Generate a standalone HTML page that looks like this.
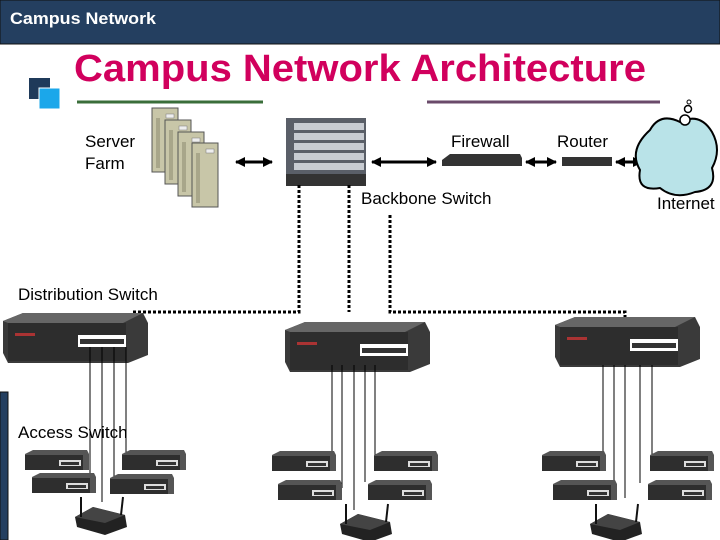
<html><head><style>body{margin:0;width:720px;height:540px;overflow:hidden;background:#fff;font-family:"Liberation Sans",sans-serif}</style></head><body>
<svg width="720" height="540" xmlns="http://www.w3.org/2000/svg" font-family="Liberation Sans, sans-serif">
<defs>
<marker id="a" markerUnits="userSpaceOnUse" markerWidth="10" markerHeight="10" refX="9" refY="5" orient="auto-start-reverse"><path d="M0,0L10,5L0,10z" fill="#000"/></marker>
<g id="ds"><path d="M0,8L20,0H140L145,10V42L125,50H5L0,40z" fill="#3a3a3a"/><path d="M0,8L20,0H140L120,10H5z" fill="#666"/><rect x="5" y="10" width="118" height="38" fill="#2d2d2d"/><rect x="75" y="22" width="48" height="12" fill="#fff"/><rect x="77" y="26" width="44" height="5" fill="#333"/><rect x="12" y="20" width="20" height="3" fill="#a33"/></g>
<g id="as"><path d="M0,4L8,0H62L64,4V20H0z" fill="#555"/><rect x="0" y="5" width="58" height="15" fill="#2e2e2e"/><rect x="34" y="10" width="22" height="6" fill="#ddd"/><rect x="36" y="12" width="18" height="3" fill="#333"/></g>
<g id="ap"><path d="M0,12L18,2L50,10L52,22L30,30L2,22z" fill="#222"/><path d="M0,12L18,2L50,10L30,18z" fill="#444"/><line x1="6" y1="12" x2="6" y2="-8" stroke="#111" stroke-width="2"/><line x1="46" y1="10" x2="48" y2="-8" stroke="#111" stroke-width="2"/></g>
<g id="srv"><rect x="0" y="0" width="26" height="64" fill="#c8c6a8" stroke="#555"/><rect x="4" y="10" width="4" height="50" fill="#a8a68a"/><rect x="14" y="6" width="8" height="4" fill="#eee" stroke="#777" stroke-width=".5"/></g>
</defs>
<rect x="0" y="0" width="720" height="44" fill="#243f60" stroke="#111"/>
<text x="10" y="24" fill="#fff" font-size="17" font-weight="bold" textLength="146" lengthAdjust="spacingAndGlyphs">Campus Network</text>
<text x="74" y="81" fill="#d1005d" font-size="38" font-weight="bold" textLength="572" lengthAdjust="spacingAndGlyphs">Campus Network Architecture</text>
<rect x="29" y="78" width="21" height="21" fill="#1f3a5a"/><rect x="39" y="88" width="21" height="21" fill="#1ba7ea" stroke="#fff"/>
<line x1="77" y1="102" x2="263" y2="102" stroke="#3a6e3a" stroke-width="3"/>
<line x1="427" y1="102" x2="660" y2="102" stroke="#6a4a6a" stroke-width="3"/>
<rect x="0" y="392" width="8" height="148" fill="#243f60" stroke="#111"/>
<text x="85" y="147" font-size="17">Server</text><text x="85" y="169" font-size="17">Farm</text>
<use href="#srv" x="152" y="108"/><use href="#srv" x="165" y="120"/><use href="#srv" x="178" y="132"/><use href="#srv" x="192" y="143"/>
<line x1="236" y1="162" x2="272" y2="162" stroke="#000" stroke-width="3" marker-start="url(#a)" marker-end="url(#a)"/>
<rect x="286" y="118" width="80" height="68" fill="#5a5f68"/><g fill="#c8ccd2"><rect x="294" y="123" width="70" height="7"/><rect x="294" y="133" width="70" height="7"/><rect x="294" y="143" width="70" height="7"/><rect x="294" y="153" width="70" height="7"/><rect x="294" y="163" width="70" height="7"/></g><rect x="286" y="174" width="80" height="12" fill="#333"/>
<line x1="372" y1="162" x2="436" y2="162" stroke="#000" stroke-width="3" marker-start="url(#a)" marker-end="url(#a)"/>
<text x="451" y="147" font-size="17">Firewall</text><text x="557" y="147" font-size="17">Router</text>
<path d="M442,160L450,154H520L522,158V166H442z" fill="#333"/>
<line x1="526" y1="162" x2="556" y2="162" stroke="#000" stroke-width="3" marker-start="url(#a)" marker-end="url(#a)"/>
<rect x="562" y="157" width="50" height="9" fill="#333"/>
<line x1="616" y1="162" x2="642" y2="162" stroke="#000" stroke-width="3" marker-start="url(#a)" marker-end="url(#a)"/>
<path d="M650,130Q660,112 680,122Q700,112 712,132Q722,150 712,168Q718,190 695,192Q675,200 660,188Q636,192 640,170Q628,150 650,130z" fill="#b9e3e8" stroke="#000" stroke-width="2"/>
<circle cx="685" cy="120" r="5" fill="#fff" stroke="#000" stroke-width="1.5"/><circle cx="688" cy="109" r="3.5" fill="#fff" stroke="#000" stroke-width="1.5"/><circle cx="689" cy="102" r="2" fill="#fff" stroke="#000"/>
<text x="657" y="209" font-size="17">Internet</text>
<text x="361" y="204" font-size="17">Backbone Switch</text>
<g fill="none" stroke="#000" stroke-width="3" stroke-dasharray="3,2">
<path d="M299,185V312H133V330"/><path d="M349,185V312"/><path d="M390,215V312H625V345"/></g>
<text x="18" y="300" font-size="17">Distribution Switch</text>
<use href="#ds" x="3" y="313"/><use href="#ds" x="285" y="322"/><use href="#ds" x="555" y="317"/>
<g stroke="#000" stroke-width="1">
<line x1="90" y1="347" x2="90" y2="478"/><line x1="102" y1="347" x2="102" y2="502"/><line x1="114" y1="347" x2="114" y2="480"/><line x1="126" y1="347" x2="126" y2="456"/>
<line x1="332" y1="365" x2="332" y2="455"/><line x1="342" y1="365" x2="342" y2="488"/><line x1="354" y1="365" x2="354" y2="510"/><line x1="365" y1="365" x2="365" y2="482"/><line x1="375" y1="365" x2="375" y2="456"/>
<line x1="603" y1="365" x2="603" y2="455"/><line x1="614" y1="365" x2="614" y2="483"/><line x1="625" y1="365" x2="625" y2="498"/><line x1="640" y1="365" x2="640" y2="483"/><line x1="652" y1="365" x2="652" y2="456"/></g>
<text x="18" y="438" font-size="17">Access Switch</text>
<use href="#as" x="25" y="450"/><use href="#as" x="122" y="450"/><use href="#as" x="32" y="473"/><use href="#as" x="110" y="474"/>
<use href="#as" x="272" y="451"/><use href="#as" x="374" y="451"/><use href="#as" x="278" y="480"/><use href="#as" x="368" y="480"/>
<use href="#as" x="542" y="451"/><use href="#as" x="650" y="451"/><use href="#as" x="553" y="480"/><use href="#as" x="648" y="480"/>
<use href="#ap" x="75" y="505"/><use href="#ap" x="340" y="512"/><use href="#ap" x="590" y="512"/>
</svg></body></html>
